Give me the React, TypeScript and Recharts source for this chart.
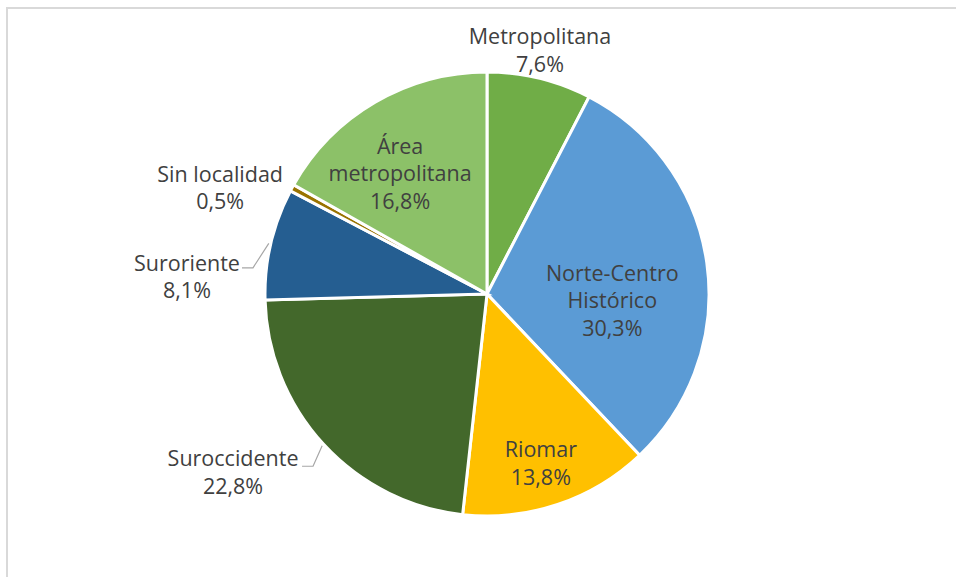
import { Cell, Pie, PieChart } from "recharts";

// zonas y participación (%)
const zonas = [
	"Metropolitana",
	"Norte-Centro Histórico",
	"Riomar",
	"Suroccidente",
	"Suroriente",
	"Sin localidad",
	"Área metropolitana",
];
const participacion = [7.6, 30.3, 13.8, 22.8, 8.1, 0.5, 16.8];
const etiquetas = [
	["Metropolitana"],
	["Norte-Centro", "Histórico"],
	["Riomar"],
	["Suroccidente"],
	["Suroriente"],
	["Sin localidad"],
	["Área", "metropolitana"],
];

const colores = [
	"#70AD47",
	"#5B9BD5",
	"#FFC000",
	"#43682B",
	"#255E91",
	"#997300",
	"#8CC168",
];

// posición de cada etiqueta: fracción del radio y desvío angular (horario, grados)
const layout: Record<number, { rf: number; da: number; leader?: [number, number][] }> = {
	0: { rf: 1.13, da: -1.5 },
	1: { rf: 0.565, da: 10.5 },
	2: { rf: 0.795, da: 0.8 },
	3: { rf: 1.395, da: 7.7, leader: [[80, -5], [69, -5]] },
	4: { rf: 1.354, da: -9.5, leader: [[66, -7.5], [55, -7.5]] },
	5: { rf: 1.296, da: -6.6 },
	6: { rf: 0.673, da: -5.3 },
};

const data = zonas.map((z, i) => ({ name: z, value: participacion[i] }));

const RAD = Math.PI / 180;
const LINE_H = 27.5;

function renderLabel(props: any) {
	const { cx, cy, midAngle, outerRadius, index } = props;
	const cfg = layout[index];
	const ang = (midAngle - cfg.da) * RAD;
	const x = cx + outerRadius * cfg.rf * Math.cos(ang);
	const y = cy - outerRadius * cfg.rf * Math.sin(ang);
	const lines = [
		...etiquetas[index],
		participacion[index].toFixed(1).replace(".", ",") + "%",
	];
	const y0 = y - ((lines.length - 1) * LINE_H) / 2;
	let leader = null;
	if (cfg.leader) {
		const sx = cx + (outerRadius + 2) * Math.cos(midAngle * RAD);
		const sy = cy - (outerRadius + 2) * Math.sin(midAngle * RAD);
		const pts = [[sx, sy], ...cfg.leader.map(([dx, dy]) => [x + dx, y + dy])];
		leader = (
			<polyline
				points={pts.map((p) => p.join(",")).join(" ")}
				fill="none"
				stroke="#A6A6A6"
				strokeWidth={1.2}
			/>
		);
	}
	return (
		<g key={`lbl-${index}`}>
			{leader}
			<text
				x={x}
				y={y0}
				textAnchor="middle"
				dominantBaseline="central"
				fill="#404040"
				fontSize={21.5}
				fontFamily="'Open Sans', sans-serif"
			>
				{lines.map((l, i) => (
					<tspan key={i} x={x} y={y0 + i * LINE_H}>
						{l}
					</tspan>
				))}
			</text>
		</g>
	);
}

export default function App() {
	return (
		<div
			style={{
				position: "fixed",
				left: 0,
				top: 0,
				width: 956,
				height: 577,
				background: "#fff",
				overflow: "hidden",
			}}
		>
			<div
				style={{
					position: "absolute",
					left: 6,
					top: 7,
					width: 960,
					height: 580,
					borderLeft: "2px solid #D9D9D9",
					borderTop: "2px solid #D9D9D9",
				}}
			/>
			<div style={{ position: "absolute", left: 0, top: 0 }}>
				<PieChart
					width={956}
					height={577}
					margin={{ top: 0, right: 0, bottom: 0, left: 0 }}
				>
					<Pie
						data={data}
						dataKey="value"
						nameKey="name"
						cx={487}
						cy={294}
						outerRadius={222}
						startAngle={90}
						endAngle={-270}
						stroke="#fff"
						strokeWidth={3}
						label={renderLabel}
						labelLine={false}
						isAnimationActive={false}
					>
						{data.map((d, i) => (
							<Cell key={d.name} fill={colores[i]} />
						))}
					</Pie>
				</PieChart>
			</div>
		</div>
	);
}
